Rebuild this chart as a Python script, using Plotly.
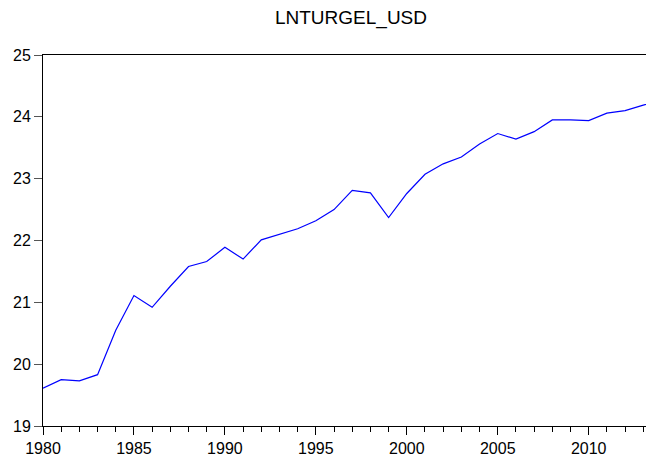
import plotly.graph_objects as go

years = list(range(1980, 2015))
values = [19.61, 19.75, 19.73, 19.83, 20.55, 21.11, 20.92, 21.26, 21.58, 21.66,
          21.89, 21.70, 22.01, 22.10, 22.19, 22.32, 22.50, 22.81, 22.77, 22.37,
          22.76, 23.07, 23.24, 23.35, 23.56, 23.73, 23.64, 23.76, 23.95, 23.95,
          23.94, 24.06, 24.10, 24.19, 24.26]
title_text = "LNTURGEL_USD"

# page body has an 8px default margin, so the figure is sized to fill the rest
W, H = 646, 453
fig = go.Figure()
fig.add_trace(go.Scatter(x=years, y=values, mode="lines",
                         line=dict(color="#0000FF", width=1.2),
                         showlegend=False, hoverinfo="skip"))

font_family = "Liberation Sans, Arial, sans-serif"
fig.update_layout(
    width=W, height=H,
    margin=dict(l=35, r=0, t=47, b=35, pad=0, autoexpand=False),
    paper_bgcolor="white", plot_bgcolor="white",
    title=dict(text=title_text, x=343/W, xanchor="center", y=1-9/H, yanchor="middle",
               font=dict(family=font_family, size=19, color="black"), automargin=False),
    font=dict(family=font_family, size=16, color="black"),
    xaxis=dict(range=[1980, 2013.59], tickmode="array",
               tickvals=[1980, 1985, 1990, 1995, 2000, 2005, 2010],
               ticks="outside", ticklen=8, tickcolor="black", tickwidth=1,
               showline=True, linecolor="black", linewidth=1, mirror=True,
               showgrid=False, zeroline=False, automargin=False,
               minor=dict(dtick=1, tick0=1980, ticks="outside", ticklen=5, tickcolor="black", showgrid=False),
               tickfont=dict(size=16)),
    yaxis=dict(range=[19, 25], dtick=1, ticks="outside", ticklen=8, tickcolor="#555555",
               showline=True, linecolor="black", linewidth=1, mirror=True,
               showgrid=False, zeroline=False, automargin=False, tickfont=dict(size=16)),
)

fig.write_html("out.html")
